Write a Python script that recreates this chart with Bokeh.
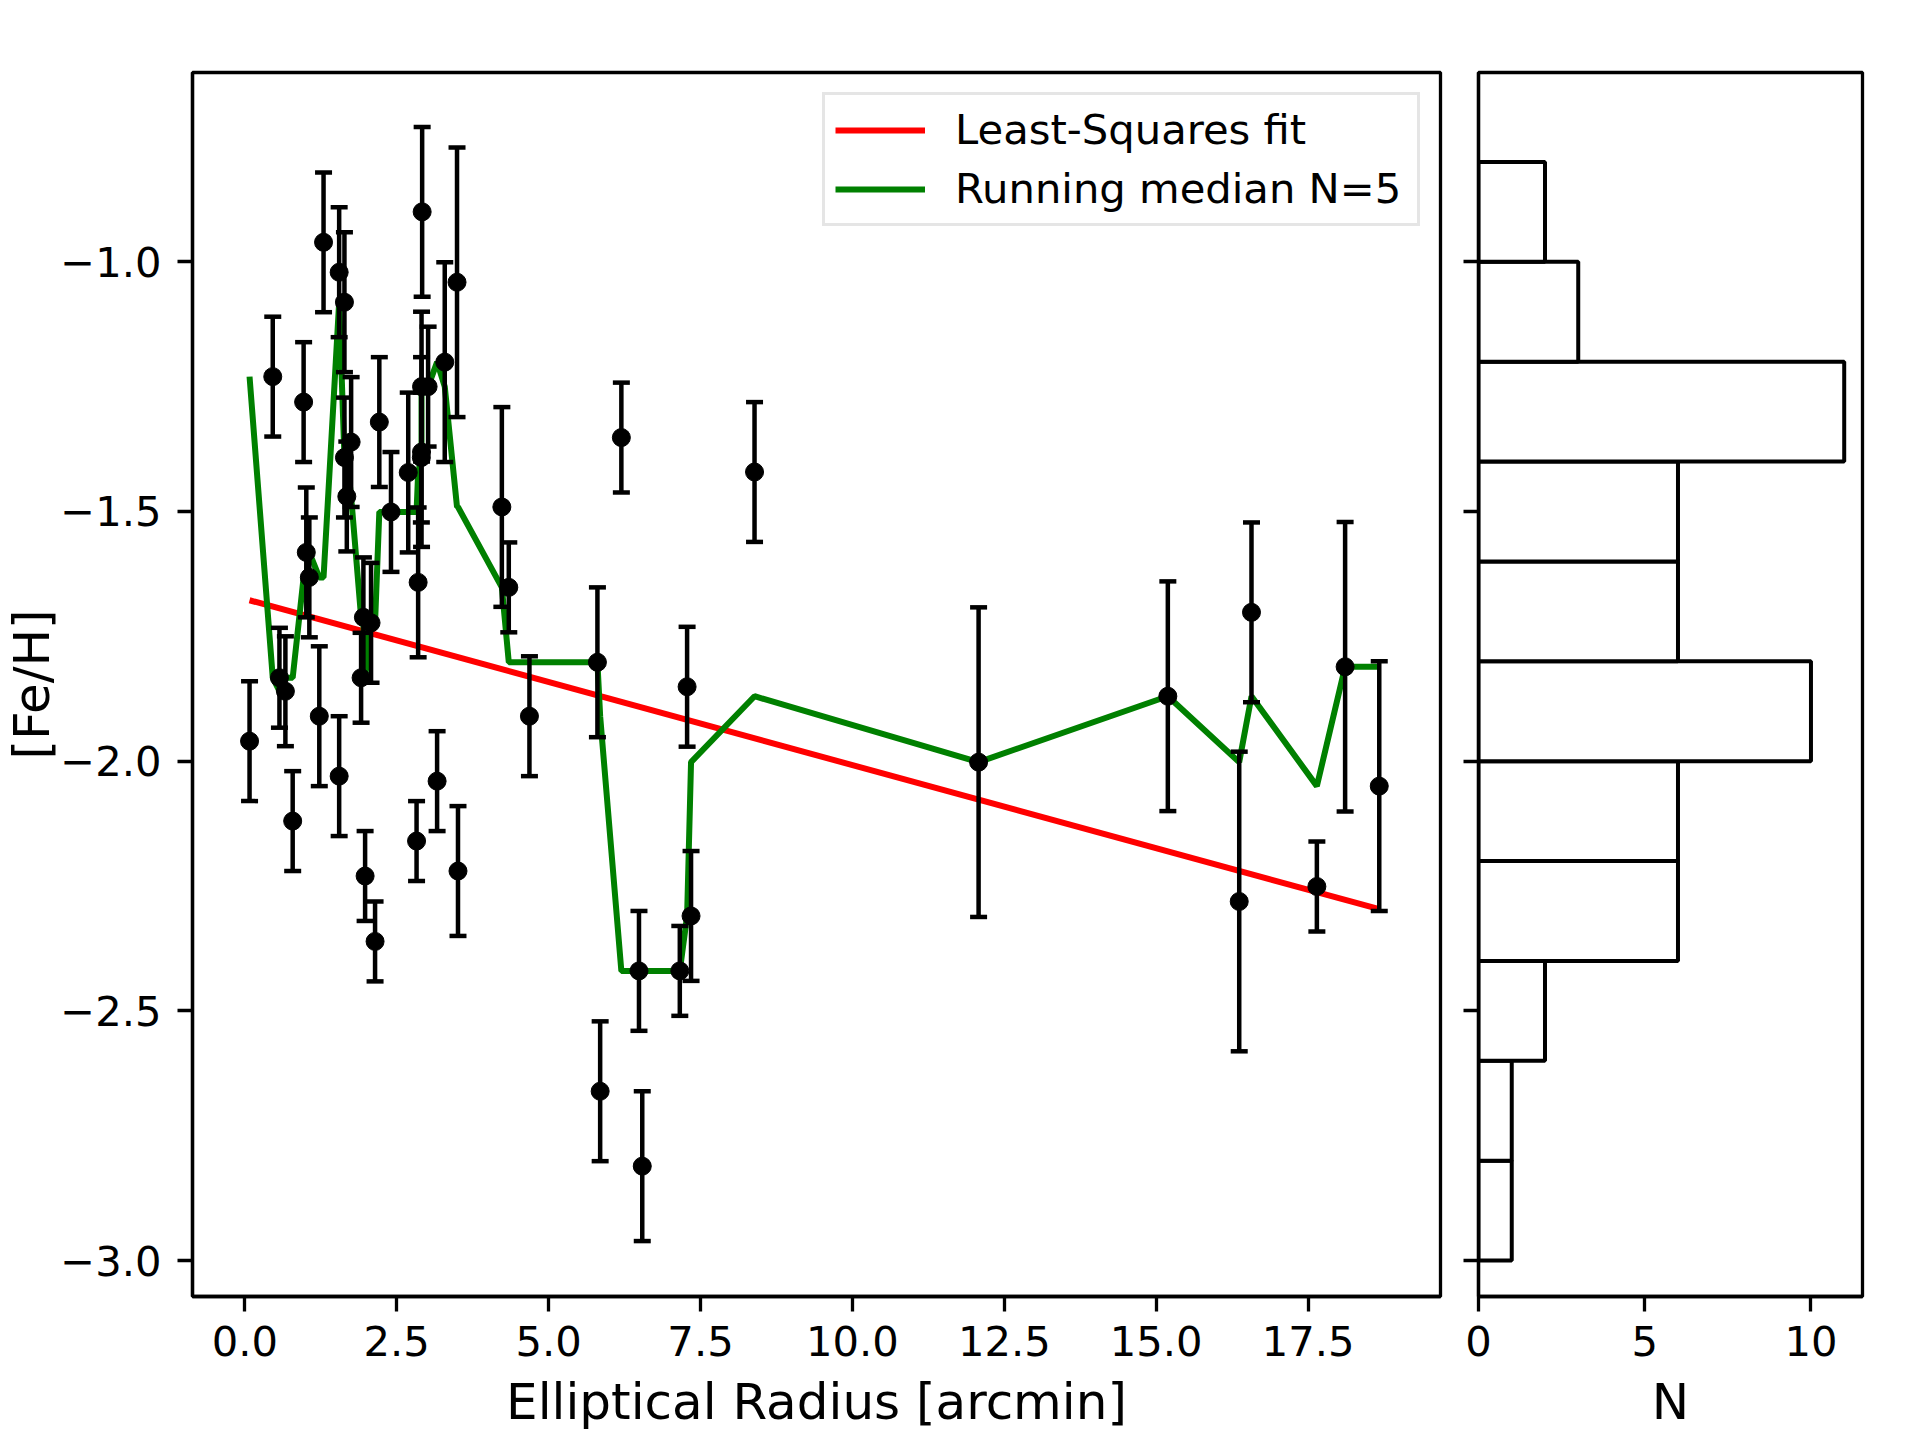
import numpy as np
from bokeh.plotting import figure
from bokeh.layouts import row
from bokeh.models import (ColumnDataSource, Range1d, FixedTicker, CustomJSTickFormatter,
                          Legend, LegendItem)
from bokeh.embed import file_html
from bokeh.resources import INLINE

# ---------------- data ----------------
radius = [0.077, 0.459, 0.569, 0.667, 0.787, 0.967, 1.011, 1.061, 1.225, 1.295,
          1.552, 1.552, 1.639, 1.639, 1.678, 1.749, 1.913, 1.951, 1.979, 2.077,
          2.143, 2.213, 2.405, 2.689, 2.826, 2.852, 2.908, 2.918, 2.908, 2.905,
          3.016, 3.164, 3.290, 3.492, 3.508, 4.230, 4.344, 4.684, 5.803, 5.848,
          6.197, 6.487, 6.541, 7.159, 7.279, 7.344, 8.389, 12.077, 15.192, 16.367,
          16.569, 17.645, 18.110, 18.672]
feh = [-1.960, -1.230, -1.833, -1.860, -2.120, -1.281, -1.582, -1.632, -1.910, -0.961,
       -2.030, -1.021, -1.081, -1.392, -1.470, -1.361, -1.833, -1.712, -2.230, -1.723,
       -2.361, -1.321, -1.501, -1.422, -2.160, -1.642, -1.250, -0.900, -1.381, -1.392,
       -1.250, -2.040, -1.201, -1.041, -2.220, -1.491, -1.652, -1.910, -1.802, -2.661,
       -1.352, -2.420, -2.811, -2.420, -1.851, -2.310, -1.421, -2.002, -1.870, -2.281,
       -1.702, -2.251, -1.811, -2.050]
feh_err = [0.12, 0.12, 0.10, 0.11, 0.10, 0.12, 0.13, 0.12, 0.14, 0.14,
           0.12, 0.13, 0.14, 0.12, 0.11, 0.13, 0.09, 0.12, 0.09, 0.12,
           0.08, 0.13, 0.12, 0.16, 0.08, 0.15, 0.15, 0.17, 0.19, 0.13,
           0.12, 0.10, 0.20, 0.27, 0.13, 0.20, 0.09, 0.12, 0.15, 0.14,
           0.11, 0.12, 0.15, 0.09, 0.12, 0.13, 0.14, 0.31, 0.23, 0.30,
           0.18, 0.09, 0.29, 0.25]

hist_edges = [-3.0, -2.8, -2.6, -2.4, -2.2, -2.0, -1.8, -1.6, -1.4, -1.2, -1.0, -0.8]
hist_counts = [1, 1, 2, 6, 6, 10, 6, 6, 11, 3, 2]

x_ticks = [0.0, 2.5, 5.0, 7.5, 10.0, 12.5, 15.0, 17.5]
y_ticks = [-3.0, -2.5, -2.0, -1.5, -1.0]
n_ticks = [0, 5, 10]

fit_label = "Least-Squares fit"
median_label = "Running median N=5"
median_window = 5

# ---------------- derived quantities ----------------
x = np.array(radius)
y = np.array(feh)
e = np.array(feh_err)

order = np.argsort(x, kind="stable")
xs, ys = x[order], y[order]
half = median_window // 2
padded = np.concatenate([np.zeros(half), ys, np.zeros(half)])
run_med = np.array([np.median(padded[i:i + median_window]) for i in range(len(ys))])

coef = np.polyfit(x, y, 1, w=1.0 / e)
fit_x = np.array([xs.min(), xs.max()])
fit_y = np.polyval(coef, fit_x)

# ---------------- styling constants ----------------
FONT = "DejaVu Sans"
TICK_FS = "41.7px"
LABEL_FS = "50px"
LW_AX = 3.3
TICK_LEN = 15

minus_fmt = CustomJSTickFormatter(code="return (tick < 0 ? '\u2212' : '') + Math.abs(tick).toFixed(1);")
fixed1_fmt = CustomJSTickFormatter(code="return tick.toFixed(1);")
int_fmt = CustomJSTickFormatter(code="return tick.toFixed(0);")
blank_fmt = CustomJSTickFormatter(code="return '';")


def style_axis(ax, label_standoff, tick_standoff):
    ax.axis_line_color = "black"
    ax.axis_line_width = LW_AX
    ax.major_tick_line_color = "black"
    ax.major_tick_line_width = LW_AX
    ax.major_tick_out = TICK_LEN
    ax.major_tick_in = 0
    ax.minor_tick_line_color = None
    ax.major_label_text_font = FONT
    ax.major_label_text_font_size = TICK_FS
    ax.major_label_text_color = "black"
    ax.major_label_standoff = tick_standoff
    ax.axis_label_text_font = FONT
    ax.axis_label_text_font_size = LABEL_FS
    ax.axis_label_text_font_style = "normal"
    ax.axis_label_text_color = "black"
    ax.axis_label_standoff = label_standoff


y_range = Range1d(-3.072, -0.621)

p = figure(width=1462, height=1440, x_range=Range1d(-0.862, 19.68), y_range=y_range,
           output_backend="svg", toolbar_location=None,
           min_border_left=192, min_border_right=22, min_border_top=72, min_border_bottom=144,
           x_axis_label="Elliptical Radius [arcmin]", y_axis_label="[Fe/H]")
p.background_fill_color = "white"
p.border_fill_color = "white"
p.outline_line_color = "black"
p.outline_line_width = LW_AX
p.xgrid.visible = False
p.ygrid.visible = False
p.xaxis.ticker = FixedTicker(ticks=x_ticks)
p.xaxis.formatter = fixed1_fmt
p.yaxis.ticker = FixedTicker(ticks=y_ticks)
p.yaxis.formatter = minus_fmt
style_axis(p.xaxis[0], 14, 14)
style_axis(p.yaxis[0], -4, 16)

red = p.line(fit_x, fit_y, line_color="#ff0000", line_width=6)
green = p.line(xs, run_med, line_color="#008000", line_width=6)

src = ColumnDataSource(dict(x=x, y=y, lo=y - e, hi=y + e))
p.segment(x0="x", y0="lo", x1="x", y1="hi", source=src, line_color="black", line_width=4.5)
p.scatter(x="x", y="lo", source=src, marker="dash", size=17, line_color="black", line_width=4.5)
p.scatter(x="x", y="hi", source=src, marker="dash", size=17, line_color="black", line_width=4.5)
p.scatter(x="x", y="y", source=src, marker="circle", size=18, fill_color="black", line_color="black")

legend = Legend(items=[LegendItem(label=fit_label, renderers=[red]),
                       LegendItem(label=median_label, renderers=[green])],
                location="top_right")
legend.margin = 20
legend.padding = 10
legend.spacing = 10
legend.label_standoff = 30
legend.glyph_width = 90
legend.glyph_height = 42
legend.label_height = 42
legend.label_width = 452
legend.label_text_font = FONT
legend.label_text_font_size = TICK_FS
legend.label_text_color = "black"
legend.border_line_color = "#cccccc"
legend.border_line_width = 3
legend.background_fill_color = "white"
legend.background_fill_alpha = 0.8
p.add_layout(legend)

# ---------------- histogram panel ----------------
h = figure(width=458, height=1440, x_range=Range1d(0, 11.55), y_range=y_range,
           output_backend="svg", toolbar_location=None,
           min_border_left=16, min_border_right=58, min_border_top=72, min_border_bottom=144,
           x_axis_label="N")
h.background_fill_color = "white"
h.border_fill_color = "white"
h.outline_line_color = "black"
h.outline_line_width = LW_AX
h.xgrid.visible = False
h.ygrid.visible = False
h.xaxis.ticker = FixedTicker(ticks=n_ticks)
h.xaxis.formatter = int_fmt
h.yaxis.ticker = FixedTicker(ticks=y_ticks)
h.yaxis.formatter = blank_fmt
style_axis(h.xaxis[0], 14, 14)
style_axis(h.yaxis[0], 0, 0)

h.quad(left=0, right=hist_counts, bottom=hist_edges[:-1], top=hist_edges[1:],
       fill_color="white", line_color="black", line_width=4)

layout = row(p, h)
open("out.html", "w").write(file_html(layout, INLINE))
